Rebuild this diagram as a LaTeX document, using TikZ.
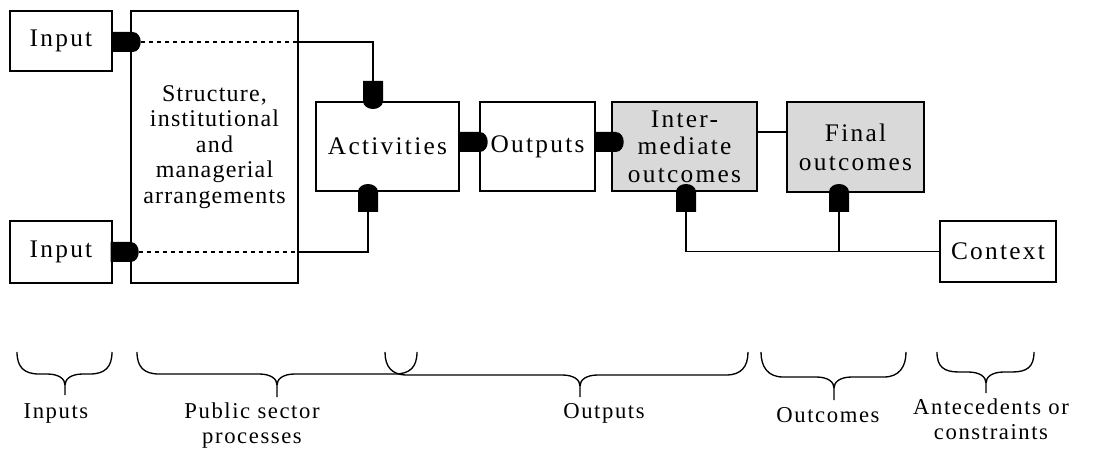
\documentclass[tikz,border=0pt]{standalone}
\usepackage{fontspec}
\setmainfont{Liberation Serif}
\newfontfamily\boxfamily{Liberation Serif}[LetterSpace=9]
\newfontfamily\strfamily{Liberation Serif}[LetterSpace=5]
\newfontfamily\lblfamily{Liberation Serif}[LetterSpace=7]
\newcommand\boxfnt{\boxfamily\fontsize{19}{20.5}\selectfont}
\newcommand\strfnt{\strfamily\fontsize{18}{19.2}\selectfont}
\newcommand\finfnt{\boxfamily\fontsize{19}{21.8}\selectfont}
\newcommand\lblfnt{\lblfamily\fontsize{17}{18.5}\selectfont}
\definecolor{boxgrey}{RGB}{217,217,217}
\newcommand\mybrace[5]{%
  \draw[bracestyle] (#1,352) .. controls (#1,367) and (#1+7,#4) .. (#1+22,#4)
     -- (#2-18,#4) .. controls (#2-6,#4) and (#2,#4+5) .. (#2,#4+11) -- (#2,#5);
  \draw[bracestyle] (#3,352) .. controls (#3,367) and (#3-7,#4) .. (#3-22,#4)
     -- (#2+18,#4) .. controls (#2+6,#4) and (#2,#4+5) .. (#2,#4+11);
}
\tikzset{
  boxstyle/.style={draw, line width=1.1pt, inner sep=0pt, align=center, font=\boxfnt},
  greybox/.style={boxstyle, fill=boxgrey},
  conn/.style={line width=0.9pt},
  dashconn/.style={line width=0.8pt, dash pattern=on 3.5pt off 2.5pt},
  bracestyle/.style={line width=1pt},
  lbl/.style={inner sep=0pt, align=center, font=\lblfnt},
  blob/.pic={\fill[black] (0,-10) -- (20,-10) .. controls (25,-10) and (28,-5) .. (28,0)
      .. controls (28,5) and (25,10) .. (20,10) -- (0,10) -- cycle;}
}
\begin{document}
\begin{tikzpicture}[x=0.75pt,y=-0.75pt]
\useasboundingbox (0,0) rectangle (1101,449);
% boxes
\node[boxstyle, minimum width=102*0.75pt, minimum height=60*0.75pt] (in1) at (61,41) {Input};
\node[boxstyle, minimum width=102*0.75pt, minimum height=62*0.75pt] (in2) at (61,252) {Input};
\node[boxstyle, minimum width=167*0.75pt, minimum height=272*0.75pt, font=\strfnt] (str) at (214.5,147) {Structure,\\institutional\\and\\managerial\\arrangements};
\node[boxstyle, minimum width=143*0.75pt, minimum height=89*0.75pt] (act) at (387.5,146.5) {Activities};
\node[boxstyle, minimum width=115*0.75pt, minimum height=89*0.75pt] (out) at (537.5,146.5) {Outputs};
\node[greybox, minimum width=145*0.75pt, minimum height=89*0.75pt] (inter) at (684.5,146.5) {Inter-\\mediate\\outcomes};
\node[greybox, minimum width=137*0.75pt, minimum height=90*0.75pt, font=\finfnt] (fin) at (855.5,147) {Final\\outcomes};
\node[boxstyle, minimum width=116*0.75pt, minimum height=61*0.75pt] (ctx) at (998,251.5) {Context};
% helper coordinates
\coordinate (y42) at (0,42);
\coordinate (y142) at (0,142);
\coordinate (y132) at (0,132);
\coordinate (acttop) at (373,81);
\coordinate (actbot) at (368,212);
\coordinate (interbot) at (686,212);
\coordinate (finbot) at (839,212);
% input 1
\draw[dashconn] ([xshift=28*0.75pt]in1.east |- y42) -- (str.east |- y42);
\draw[conn] (str.east |- y42) -| (acttop);
\pic at (in1.east |- y42) {blob};
\pic[rotate=-90] at (acttop) {blob};
% input 2
\draw[dashconn] ([xshift=26*0.75pt]in2.east) -- (in2.east -| str.east);
\draw[conn] (in2.east -| str.east) -| (actbot);
\pic at ([xshift=-2*0.75pt]in2.east) {blob};
\pic[rotate=90] at (actbot) {blob};
% chain
\pic at (act.east |- y142) {blob};
\pic at (out.east |- y142) {blob};
\draw[conn] (inter.east |- y132) -- (fin.west |- y132);
% context
\draw[conn] (interbot) |- (ctx.west);
\draw[conn] (finbot) -- (finbot |- ctx.west);
\pic[rotate=90] at (interbot) {blob};
\pic[rotate=90] at (finbot) {blob};
% braces
\mybrace{17}{65}{112}{374}{395}
\mybrace{137}{277}{417}{374}{397}
\mybrace{385}{580}{748}{375}{397}
\mybrace{761}{834}{906}{377}{400}
\mybrace{937}{986}{1034}{372}{393}
% labels
\node[lbl, anchor=base] (l1) at (56,418) {Inputs};
\node[lbl, anchor=base] (l2) at (252,443) {Public sector\\processes};
\node[lbl, anchor=base] (l3) at (604,418) {Outputs};
\node[lbl, anchor=base] (l4) at (828,422) {Outcomes};
\node[lbl, anchor=base] (l5) at (991,439) {Antecedents or\\constraints};
\end{tikzpicture}
\end{document}
